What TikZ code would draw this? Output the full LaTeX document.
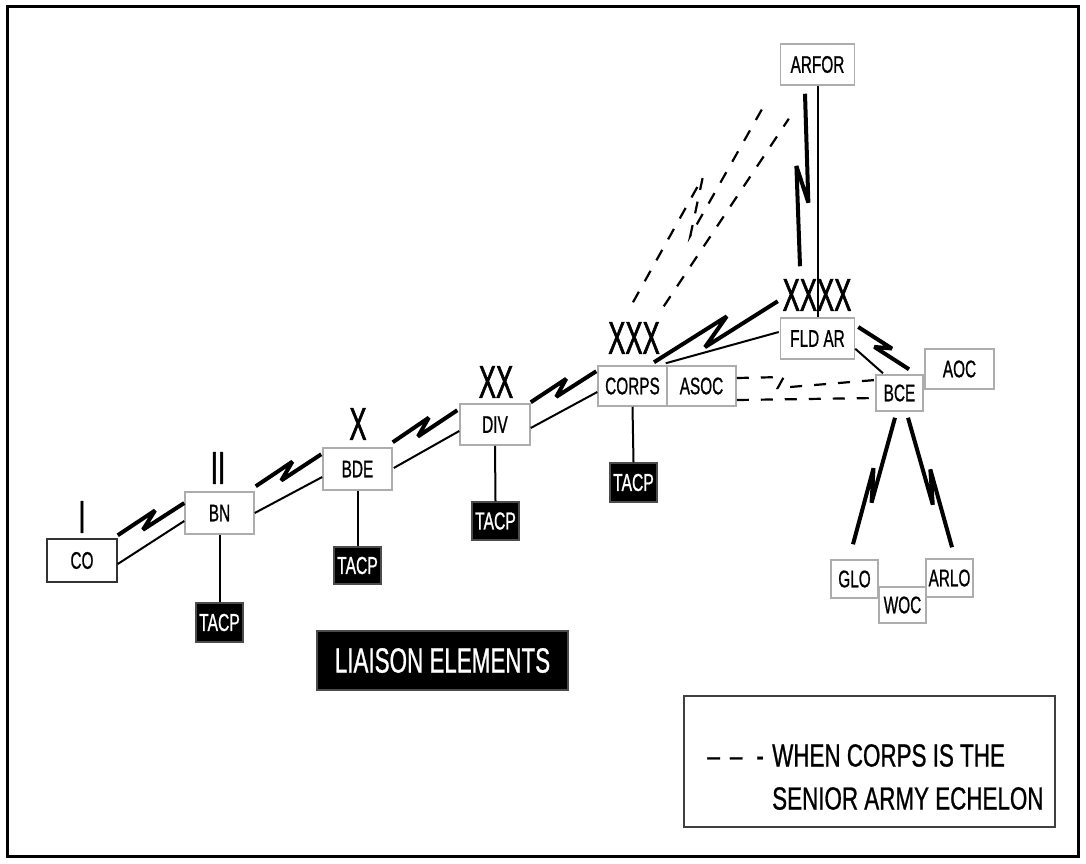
\documentclass[tikz,border=0pt]{standalone}
\usepackage{fontspec}
\setmainfont{Liberation Sans}
\newfontfamily\labfont{Liberation Sans}[FakeStretch=0.64,FakeBold=0.8]
\newfontfamily\echfont{Liberation Sans}[FakeStretch=0.56,FakeBold=1.2]
\newfontfamily\legfont{Liberation Sans}[FakeStretch=0.70,FakeBold=0.8]
\usetikzlibrary{calc}
\definecolor{boxgray}{gray}{0.68}
\tikzset{
  box/.style n args={2}{draw=boxgray, line width=1.5pt, fill=white, inner sep=0pt,
    minimum width=#1pt, minimum height=#2pt, font=\labfont\fontsize{24}{24}\selectfont},
  tacp/.style n args={2}{draw=black!70, line width=1.5pt, fill=black, text=white, inner sep=0pt,
    minimum width=#1pt, minimum height=#2pt, font=\labfont\fontsize{24.5}{24.5}\selectfont},
  ech/.style={inner sep=0pt, font=\echfont\fontsize{46}{46}\selectfont},
  legtext/.style={inner sep=0pt, font=\legfont\fontsize{32}{32}\selectfont},
  thk/.style={line width=4pt, miter limit=4},
  thn/.style={line width=2pt},
  dsh/.style={line width=2.2pt, dash pattern=on 12pt off 12pt},
  zz/.style n args={3}{to path={
    -- ($(\tikztostart)!#1!(\tikztotarget)!#3!90:(\tikztotarget)$)
    -- ($(\tikztostart)!#2!(\tikztotarget)!#3!-90:(\tikztotarget)$)
    -- (\tikztotarget) \tikztonodes}}
}
\begin{document}
\begin{tikzpicture}[x=1pt,y=-1pt]
\useasboundingbox (0,0) rectangle (1086,863);
\draw[line width=3pt] (7.5,6.5) rectangle (1078.5,856.5);

% boxes
\node[box={70}{43}, draw=black!80] (CO) at (82,560.5) {CO};
\node[box={69}{42}] (BN) at (219.5,513) {BN};
\node[box={69}{42}] (BDE) at (357.5,469) {BDE};
\node[box={70}{41}] (DIV) at (495,424.5) {DIV};
\node[box={69}{40}] (CORPS) at (632.5,386) {CORPS};
\node[box={69}{40}] (ASOC) at (701.5,386) {ASOC};
\node[box={74}{41}] (FLD) at (817.5,338.5) {FLD AR};
\node[box={74}{41}] (ARFOR) at (817.5,64.5) {ARFOR};
\node[box={47}{36}] (BCE) at (899.5,393) {BCE};
\node[box={69}{40}] (AOC) at (959.5,369) {AOC};
\node[box={47}{38}] (GLO) at (854.5,579) {GLO};
\node[box={47}{36}] (WOC) at (902.5,605) {WOC};
\node[box={47}{38}] (ARLO) at (949.5,578) {ARLO};

\node[tacp={47}{39}] (T1) at (219.5,622.5) {TACP};
\node[tacp={47}{37}] (T2) at (357.5,565.5) {TACP};
\node[tacp={47}{38}] (T3) at (495.5,521) {TACP};
\node[tacp={47}{39}] (T4) at (633.5,482.5) {TACP};

\node[draw=black!70, line width=1.5pt, fill=black, text=white, inner sep=0pt,
  minimum width=251pt, minimum height=59pt, font=\labfont\fontsize{35}{35}\selectfont]
  (LIA) at (442.5,660.5) {LIAISON ELEMENTS};

% echelon symbols
\node[ech] (eCO) at (82,517) {I};
\node[ech] (eBN) at (218,468) {II};
\node[ech] (eBDE) at (358,424) {X};
\node[ech] (eDIV) at (496,382) {XX};
\node[ech] (eCORPS) at (634,338) {XXX};
\node[ech] (eFLD) at (817,295) {XXXX};

% link end points
\coordinate (a1) at ($(CO.north east)+(0,-3)$);
\coordinate (b1) at ($(BN.west)+(0,-10)$);
\coordinate (a1t) at ($(CO.east)+(0,3.5)$);
\coordinate (b1t) at ($(BN.west)+(0,8)$);
\coordinate (a2) at ($(BN.north east)+(1,-5)$);
\coordinate (b2) at ($(BDE.north west)+(-1,7)$);
\coordinate (b2t) at ($(BDE.west)+(0,8)$);
\coordinate (a3) at ($(BDE.north east)+(0,-5)$);
\coordinate (b3) at ($(DIV.north west)+(-2,7)$);
\coordinate (a3t) at ($(BDE.east)+(1,-1)$);
\coordinate (b3t) at ($(DIV.west)+(0,6.5)$);
\coordinate (a4) at ($(DIV.north east)+(0,-1)$);
\coordinate (b4) at ($(CORPS.north west)+(-1,6)$);
\coordinate (a4t) at ($(DIV.east)+(0,3.5)$);
\coordinate (b4t) at ($(CORPS.west)+(0,6)$);
\coordinate (a5) at ($(CORPS.north)+(21.5,-3)$);
\coordinate (b5) at ($(FLD.north west)+(-2,-16)$);
\coordinate (a5t) at ($(CORPS.north east)+(-2,-2)$);
\coordinate (b5t) at ($(FLD.west)+(-1,-6.5)$);
\coordinate (a6) at ($(ARFOR.south)+(-12.5,8)$);
\coordinate (b6) at ($(FLD.north)+(-17.5,-51)$);
\coordinate (a7) at ($(FLD.east)+(3,-11.5)$);
\coordinate (b7) at ($(BCE.north)+(9.5,-5)$);
\coordinate (a7t) at ($(FLD.south east)+(0,-11)$);
\coordinate (b7t) at ($(BCE.north)+(-16.5,-1)$);
\coordinate (a8) at ($(BCE.south)+(-4.5,6)$);
\coordinate (b8) at ($(GLO.north)+(-1.5,-15)$);
\coordinate (a9) at ($(BCE.south)+(8.5,6)$);
\coordinate (b9) at ($(ARLO.north)+(2.5,-11)$);
\coordinate (d1a) at ($(CORPS.north)+(0.5,-63)$);
\coordinate (d1b) at ($(ARFOR.south west)+(-13,15)$);
\coordinate (d2a) at ($(CORPS.north east)+(-4,-59)$);
\coordinate (d2b) at ($(ARFOR.south west)+(9,33)$);
\coordinate (e1a) at ($(ASOC.east)+(0,-8)$);
\coordinate (e1b) at ($(BCE.west)+(0,-13)$);
\coordinate (e2a) at ($(ASOC.east)+(0,14)$);
\coordinate (e2b) at ($(BCE.west)+(0,5)$);

% command/communication links
\draw[thk] (a1) to[zz={0.6}{0.34}{6pt}] (b1);
\draw[thn] (a1t) -- (b1t);
\draw[thk] (a2) to[zz={0.6}{0.35}{6pt}] (b2);
\draw[thn] (BN.east) -- (b2t);
\draw[thk] (a3) to[zz={0.6}{0.35}{6pt}] (b3);
\draw[thn] (a3t) -- (b3t);
\draw[thk] (a4) to[zz={0.58}{0.35}{6pt}] (b4);
\draw[thn] (a4t) -- (b4t);
\draw[thk] (a5) to[zz={0.62}{0.38}{9pt}] (b5);
\draw[thn] (a5t) -- (b5t);
\draw[thk] (a6) to[zz={0.63}{0.42}{6.5pt}] (b6);
\draw[thn] (ARFOR.south) -- (FLD.north);
\draw[thk] (a7) to[zz={0.6}{0.38}{5pt}] (b7);
\draw[thn] (a7t) -- (b7t);
\draw[thk] (a8) to[zz={0.66}{0.41}{4.5pt}] (b8);
\draw[thk] (a9) to[zz={0.66}{0.41}{-4.5pt}] (b9);

% TACP connectors
\draw[thn] (BN.south) -- (T1.north);
\draw[thn] (BDE.south) -- (T2.north);
\draw[thn] (DIV.south) -- (T3.north);
\draw[thn] (CORPS.south) -- (T4.north);

% dashed links (corps as senior army echelon)
\draw[dsh] (d1a) to[zz={0.59}{0.36}{11pt}] (d1b);
\draw[dsh] (d2a) -- (d2b);
\draw[dsh] (e1a) -- ++(47,-1) -- ++(-6,11) -- (e1b);
\draw[dsh] (e2a) -- (e2b);

% legend
\node[draw=black!75, line width=2.5pt, minimum width=371pt, minimum height=131pt, inner sep=0pt]
  (LEG) at (869.5,761.5) {};
\node[legtext, anchor=base east] (LD) at (764,766.5) {–\hspace{10pt}–\hspace{14pt}-};
\node[legtext, anchor=base west] (L1) at (772,766.5) {WHEN CORPS IS THE};
\node[legtext, anchor=base west] (L2) at (772,809.5) {SENIOR ARMY ECHELON};
\end{tikzpicture}
\end{document}
